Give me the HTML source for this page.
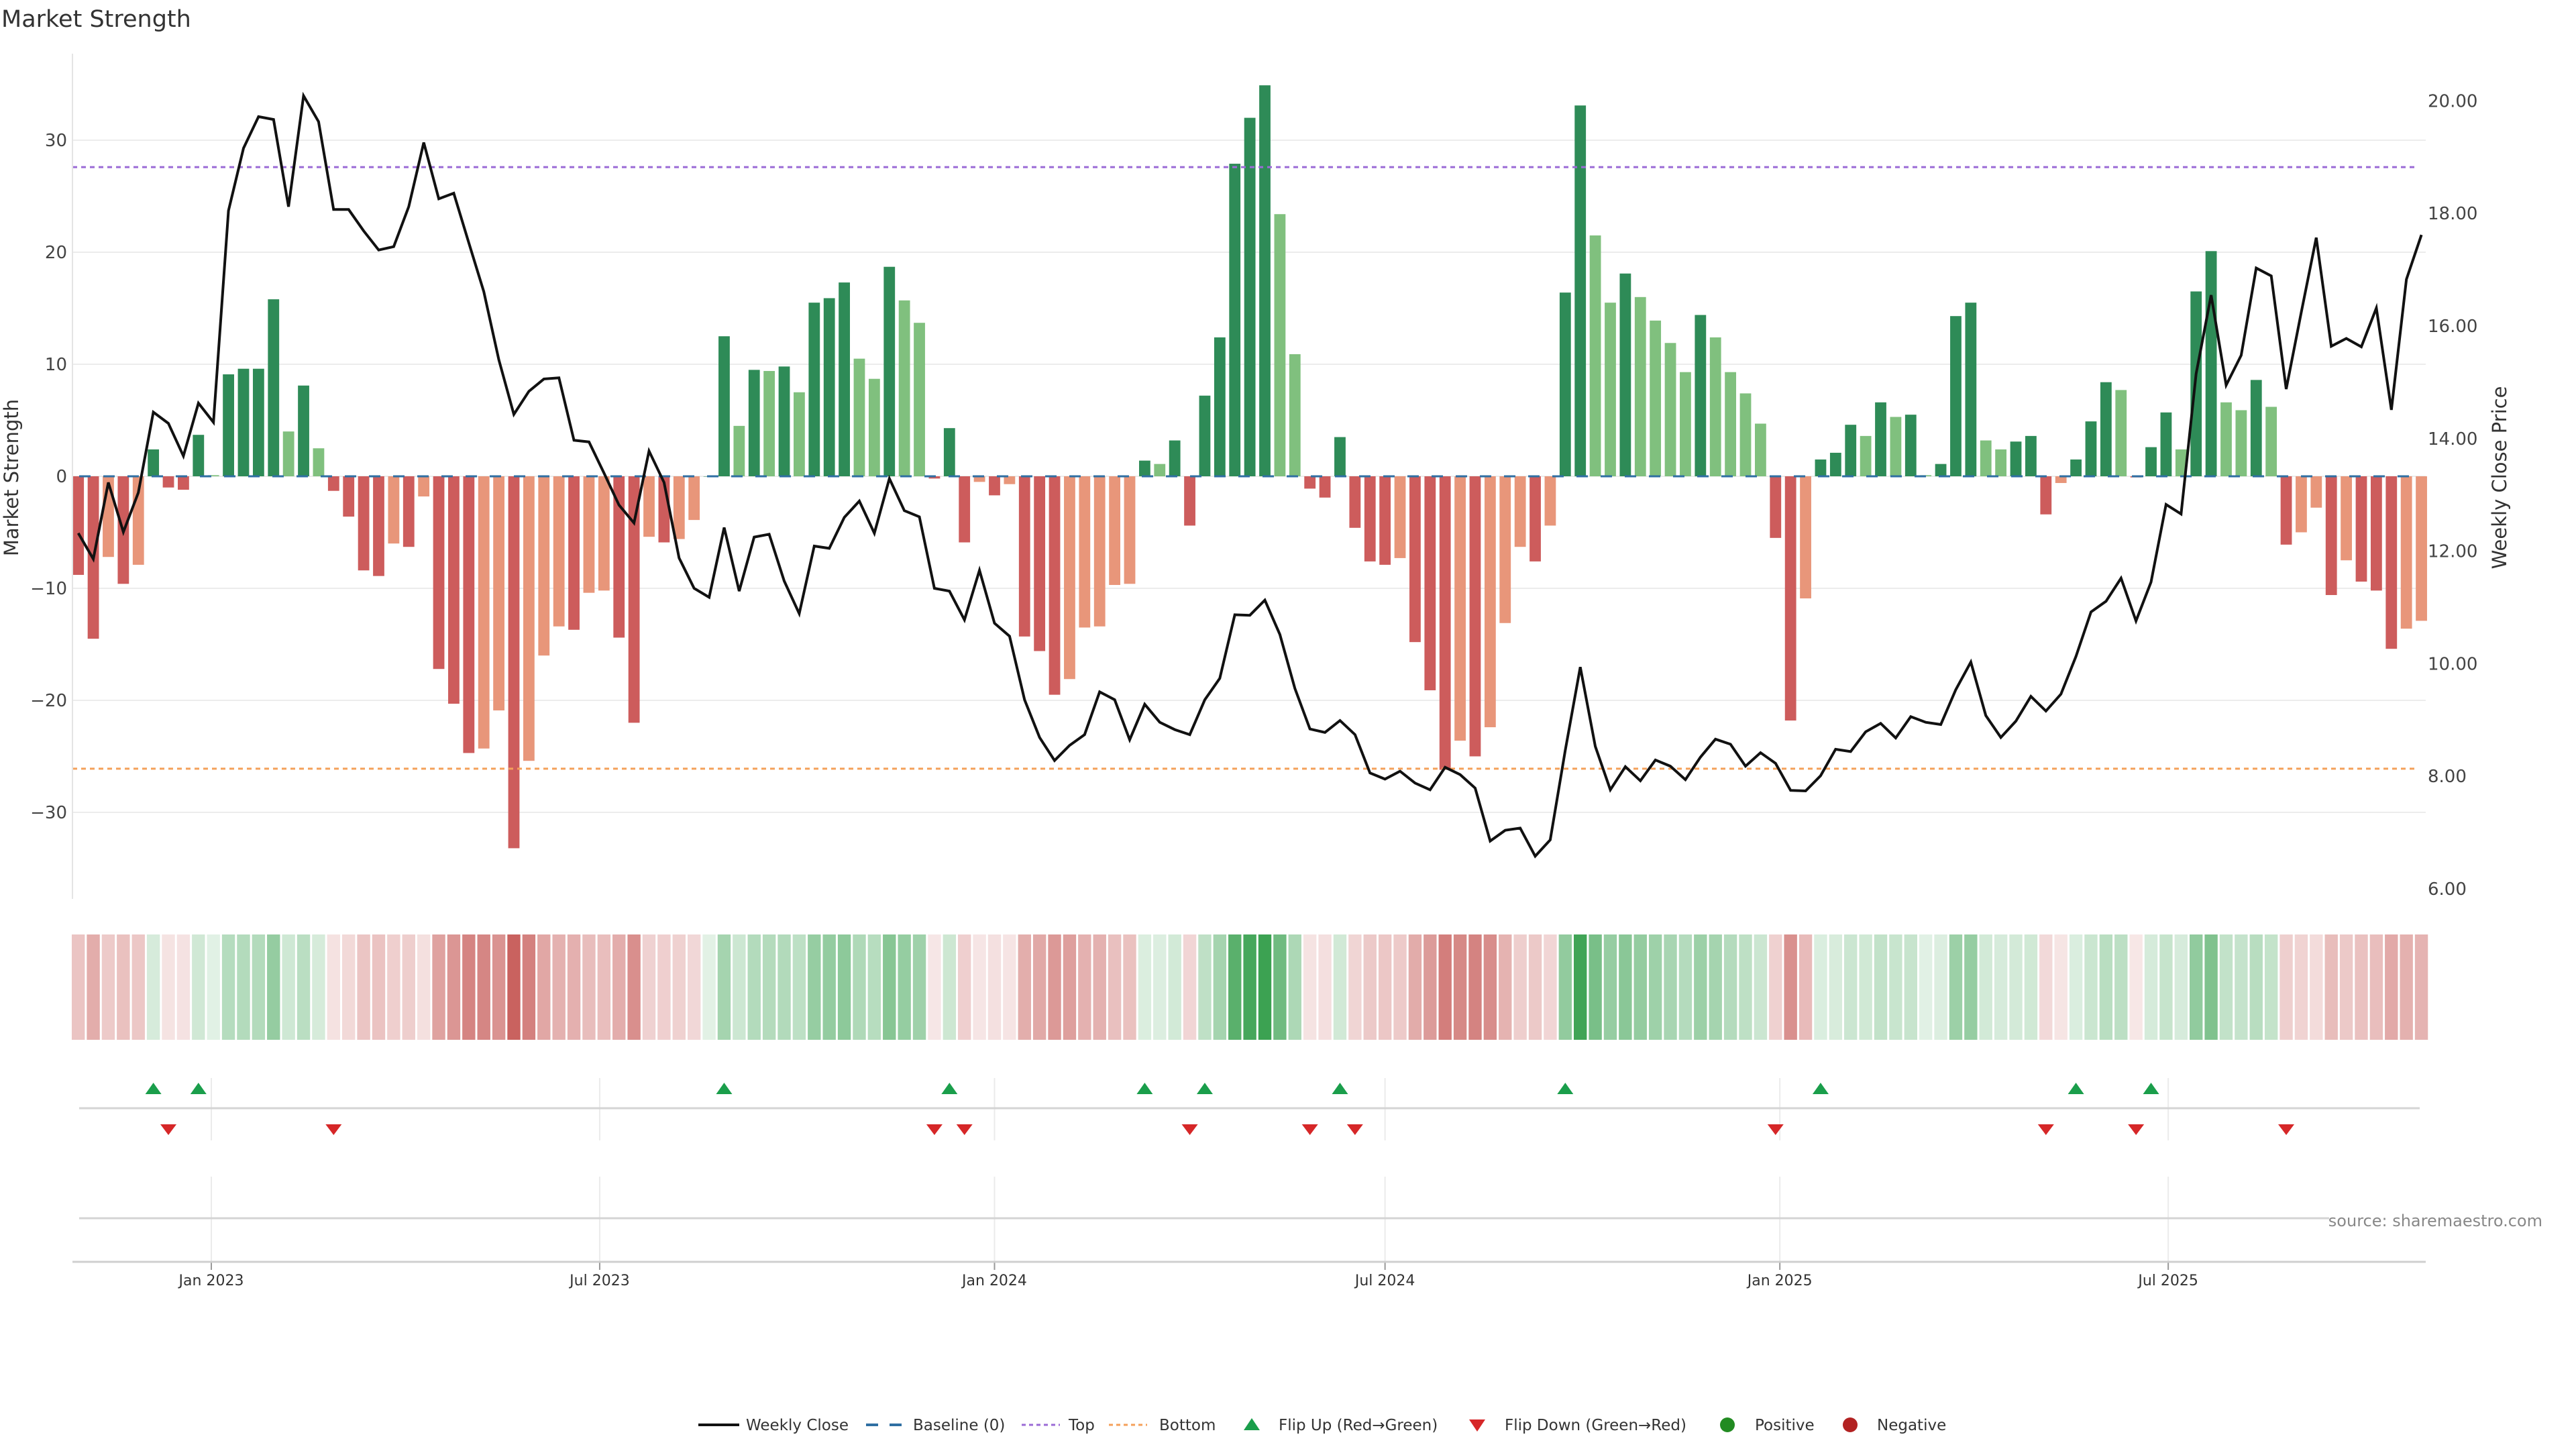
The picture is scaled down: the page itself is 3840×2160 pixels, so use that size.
<!DOCTYPE html>
<html><head><meta charset="utf-8"><title>Market Strength</title>
<style>
html,body{margin:0;padding:0;background:#fff;}
svg{display:block;font-family:"DejaVu Sans","Liberation Sans",sans-serif;}
</style></head>
<body>
<svg id="chart" width="3840" height="2160" viewBox="0 0 3840 2160" xmlns="http://www.w3.org/2000/svg">
<rect x="0" y="0" width="3840" height="2160" fill="#fff"/>
<text x="2" y="40" font-size="35" fill="#333">Market Strength</text>
<g id="grid"></g>
<g id="refs"></g>
<g id="bars"></g>
<g id="price"></g>
<g id="axes"></g>
<g id="heat"></g>
<g id="flips"></g>
<g id="legend"></g>
<text x="3790" y="1828" font-size="24" fill="#888" text-anchor="end">source: sharemaestro.com</text>
</svg>
<script>
const strength = [-8.8,-14.5,-7.2,-9.6,-7.9,2.4,-1.0,-1.2,3.7,0.1,9.1,9.6,9.6,15.8,4.0,8.1,2.5,-1.3,-3.6,-8.4,-8.9,-6.0,-6.3,-1.8,-17.2,-20.3,-24.7,-24.3,-20.9,-33.2,-25.4,-16.0,-13.4,-13.7,-10.4,-10.2,-14.4,-22.0,-5.4,-5.9,-5.6,-3.9,0,12.5,4.5,9.5,9.4,9.8,7.5,15.5,15.9,17.3,10.5,8.7,18.7,15.7,13.7,-0.2,4.3,-5.9,-0.5,-1.7,-0.7,-14.3,-15.6,-19.5,-18.1,-13.5,-13.4,-9.7,-9.6,1.4,1.1,3.2,-4.4,7.2,12.4,27.9,32.0,34.9,23.4,10.9,-1.1,-1.9,3.5,-4.6,-7.6,-7.9,-7.3,-14.8,-19.1,-26.2,-23.6,-25.0,-22.4,-13.1,-6.3,-7.6,-4.4,16.4,33.1,21.5,15.5,18.1,16.0,13.9,11.9,9.3,14.4,12.4,9.3,7.4,4.7,-5.5,-21.8,-10.9,1.5,2.1,4.6,3.6,6.6,5.3,5.5,0.1,1.1,14.3,15.5,3.2,2.4,3.1,3.6,-3.4,-0.6,1.5,4.9,8.4,7.7,-0.1,2.6,5.7,2.4,16.5,20.1,6.6,5.9,8.6,6.2,-6.1,-5.0,-2.8,-10.6,-7.5,-9.4,-10.2,-15.4,-13.6,-12.9];
const closePrice = [12.32,11.86,13.22,12.34,13.04,14.47,14.27,13.69,14.63,14.29,18.05,19.16,19.72,19.67,18.12,20.09,19.63,18.07,18.07,17.69,17.35,17.41,18.12,19.26,18.26,18.36,17.48,16.61,15.40,14.43,14.84,15.06,15.08,13.97,13.94,13.39,12.82,12.50,13.78,13.22,11.88,11.34,11.18,12.42,11.29,12.25,12.30,11.47,10.89,12.09,12.05,12.60,12.89,12.32,13.29,12.72,12.61,11.34,11.29,10.78,11.66,10.72,10.49,9.36,8.69,8.28,8.55,8.74,9.50,9.36,8.65,9.28,8.96,8.83,8.74,9.36,9.74,10.87,10.86,11.13,10.52,9.56,8.84,8.78,8.99,8.74,8.06,7.95,8.09,7.88,7.76,8.16,8.03,7.79,6.85,7.04,7.08,6.58,6.87,8.46,9.94,8.53,7.76,8.17,7.92,8.29,8.18,7.94,8.34,8.66,8.57,8.18,8.42,8.23,7.75,7.74,8.01,8.48,8.44,8.79,8.94,8.68,9.06,8.96,8.92,9.54,10.03,9.08,8.69,8.98,9.42,9.16,9.46,10.13,10.92,11.11,11.52,10.76,11.45,12.83,12.66,15.15,16.55,14.95,15.48,17.03,16.89,14.88,16.24,17.57,15.64,15.78,15.63,16.32,14.51,16.83,17.62];
const topLevel = [27.6];
const bottomLevel = [-26.1];
const leftTicks = [-30,-20,-10,0,10,20,30];
const leftTickLabels = ["\u221230","\u221220","\u221210","0","10","20","30"];
const rightTicks = [6,8,10,12,14,16,18,20];
const rightTickLabels = ["6.00","8.00","10.00","12.00","14.00","16.00","18.00","20.00"];
const dateTickDays = [0,181,365,547,731,912];
const dateTickLabels = ["Jan 2023","Jul 2023","Jan 2024","Jul 2024","Jan 2025","Jul 2025"];
const firstBarDay = [-62];

const NS = "http://www.w3.org/2000/svg";
const X0 = 108, X1 = 3616;
function xDay(d){ return 315 + 3.1986 * d; }
function xBar(i){ return xDay(firstBarDay[0] + 7 * i); }
function yL(v){ return 710 - v * 16.7; }
function yR(p){ return 1325 - (p - 6) * 83.9; }
function mk(tag, attrs, parent){ const e = document.createElementNS(NS, tag); for (const k in attrs) e.setAttribute(k, attrs[k]); parent.appendChild(e); return e; }

const gGrid = document.getElementById('grid');
const gRefs = document.getElementById('refs');
const gBars = document.getElementById('bars');
const gPrice = document.getElementById('price');
const gAxes = document.getElementById('axes');
const gHeat = document.getElementById('heat');
const gFlips = document.getElementById('flips');
const gLeg = document.getElementById('legend');

leftTicks.forEach((v, k) => {
  const l = mk('line', {x1: X0, x2: X1, y1: yL(v), y2: yL(v), stroke: '#ececec', 'stroke-width': 2}, gGrid);
  
  
  const t = mk('text', {x: 100, y: yL(v) + 9, 'font-size': 26, fill: '#444', 'text-anchor': 'end'}, gAxes);
  t.textContent = leftTickLabels[k];
  
  
});
rightTicks.forEach((p, k) => {
  const t = mk('text', {x: 3619, y: yR(p) + 9, 'font-size': 26, fill: '#444'}, gAxes);
  t.textContent = rightTickLabels[k];
  
  
});
const la = mk('line', {x1: X0, x2: X0, y1: 80, y2: 1340, stroke: '#e4e4e4', 'stroke-width': 2}, gAxes);


const yt = mk('text', {x: 0, y: 0, 'font-size': 29, fill: '#333', 'text-anchor': 'middle', transform: 'translate(27,712) rotate(-90)'}, gAxes);
yt.textContent = 'Market Strength';


const yt2 = mk('text', {x: 0, y: 0, 'font-size': 29, fill: '#333', 'text-anchor': 'middle', transform: 'translate(3736,712) rotate(-90)'}, gAxes);
yt2.textContent = 'Weekly Close Price';



const tl = mk('line', {x1: X0, x2: 3605, y1: yL(topLevel[0]), y2: yL(topLevel[0]), stroke: '#9b6bd6', 'stroke-width': 3, 'stroke-dasharray': '7 6'}, gRefs);


const bl = mk('line', {x1: X0, x2: 3605, y1: yL(bottomLevel[0]), y2: yL(bottomLevel[0]), stroke: '#f4a05a', 'stroke-width': 3, 'stroke-dasharray': '7 6'}, gRefs);



const BW = 16.8;
strength.forEach((v, i) => {
  const prev = i > 0 ? strength[i - 1] : v;
  const sameSign = (prev >= 0) === (v >= 0);
  const dark = !sameSign || Math.abs(v) >= Math.abs(prev) || i === 0;
  let fill;
  if (v >= 0) fill = dark ? '#2e8b57' : '#80c07e';
  else fill = dark ? '#cd5c5c' : '#e8967a';
  const y0 = yL(0), y1 = yL(v);
  const r = mk('rect', {x: xBar(i) - BW / 2, y: Math.min(y0, y1), width: BW, height: Math.max(Math.abs(y1 - y0), 0.5), fill: fill}, gBars);
  
  
});
const base = mk('line', {x1: X0 + 10, x2: 3610, y1: yL(0), y2: yL(0), stroke: '#2f6fa3', 'stroke-width': 3, 'stroke-dasharray': '17 19'}, gRefs);


gRefs.parentNode.insertBefore(gRefs, gPrice);

const pts = closePrice.map((p, i) => xBar(i).toFixed(1) + ',' + yR(p).toFixed(1)).join(' ');
const pl = mk('polyline', {points: pts, fill: 'none', stroke: '#111', 'stroke-width': 4, 'stroke-linejoin': 'miter'}, gPrice);



strength.forEach((v, i) => {
  const t = 0.15 + 0.85 * Math.min(Math.abs(v) / 34, 1);
  const b = v >= 0 ? [60, 162, 82] : [200, 95, 92];
  const c = b.map(ch => Math.round(255 - (255 - ch) * t));
  const r = mk('rect', {x: xBar(i) - 9.7, y: 1393, width: 19.4, height: 157, fill: 'rgb(' + c.join(',') + ')'}, gHeat);
  
  
});

dateTickDays.forEach((d, k) => {
  const x = xDay(d);
  const g1 = mk('line', {x1: x, x2: x, y1: 1607, y2: 1700, stroke: '#ebebeb', 'stroke-width': 2}, gGrid);
  
  
  const g2 = mk('line', {x1: x, x2: x, y1: 1754, y2: 1880, stroke: '#ebebeb', 'stroke-width': 2}, gGrid);
  
  
  const tk = mk('line', {x1: x, x2: x, y1: 1881, y2: 1893, stroke: '#999', 'stroke-width': 2}, gAxes);
  
  
  const t = mk('text', {x: x, y: 1916, 'font-size': 22, fill: '#333', 'text-anchor': 'middle'}, gAxes);
  t.textContent = dateTickLabels[k];
  
  
});
const fl = mk('line', {x1: 118, x2: 3607, y1: 1652, y2: 1652, stroke: '#d4d4d4', 'stroke-width': 3}, gAxes);


const sl = mk('line', {x1: 118, x2: 3472, y1: 1816, y2: 1816, stroke: '#d4d4d4', 'stroke-width': 3}, gAxes);


const xa = mk('line', {x1: X0, x2: X1, y1: 1881, y2: 1881, stroke: '#cfcfcf', 'stroke-width': 3}, gAxes);



strength.forEach((v, i) => {
  if (i === 0) return;
  const p = strength[i - 1];
  const x = xBar(i);
  if (v > 0 && p <= 0) {
    const t = mk('polygon', {points: (x - 12) + ',1631 ' + (x + 12) + ',1631 ' + x + ',1614', fill: '#1a9e4b'}, gFlips);
    
    
  } else if (v < 0 && p >= 0) {
    const t = mk('polygon', {points: (x - 12) + ',1676 ' + (x + 12) + ',1676 ' + x + ',1692', fill: '#d62728'}, gFlips);
    
    
  }
});

const LY = 2124;
function legText(x, s, name){ const t = mk('text', {x: x, y: LY + 8, 'font-size': 23, fill: '#333'}, gLeg); t.textContent = s;   }
let e;
e = mk('line', {x1: 1041, x2: 1102, y1: LY, y2: LY, stroke: '#111', 'stroke-width': 4}, gLeg);
 
legText(1112, 'Weekly Close', 'legend-weekly-close');
e = mk('line', {x1: 1291, x2: 1344, y1: LY, y2: LY, stroke: '#2f6fa3', 'stroke-width': 4, 'stroke-dasharray': '18 17'}, gLeg);
 
legText(1361, 'Baseline (0)', 'legend-baseline');
e = mk('line', {x1: 1523, x2: 1580, y1: LY, y2: LY, stroke: '#9b6bd6', 'stroke-width': 3, 'stroke-dasharray': '6 5'}, gLeg);
 
legText(1593, 'Top', 'legend-top');
e = mk('line', {x1: 1653, x2: 1710, y1: LY, y2: LY, stroke: '#f4a05a', 'stroke-width': 3, 'stroke-dasharray': '6 5'}, gLeg);
 
legText(1728, 'Bottom', 'legend-bottom');
e = mk('polygon', {points: '1854,2132 1878,2132 1866,2114', fill: '#1a9e4b'}, gLeg);
 
legText(1906, 'Flip Up (Red\u2192Green)', 'legend-flip-up');
e = mk('polygon', {points: '2190,2116 2214,2116 2202,2134', fill: '#d62728'}, gLeg);
 
legText(2243, 'Flip Down (Green\u2192Red)', 'legend-flip-down');
e = mk('circle', {cx: 2575, cy: LY, r: 11, fill: '#228b22'}, gLeg);
 
legText(2616, 'Positive', 'legend-positive');
e = mk('circle', {cx: 2758, cy: LY, r: 11, fill: '#b22222'}, gLeg);
 
legText(2798, 'Negative', 'legend-negative');
</script>
</body></html>
